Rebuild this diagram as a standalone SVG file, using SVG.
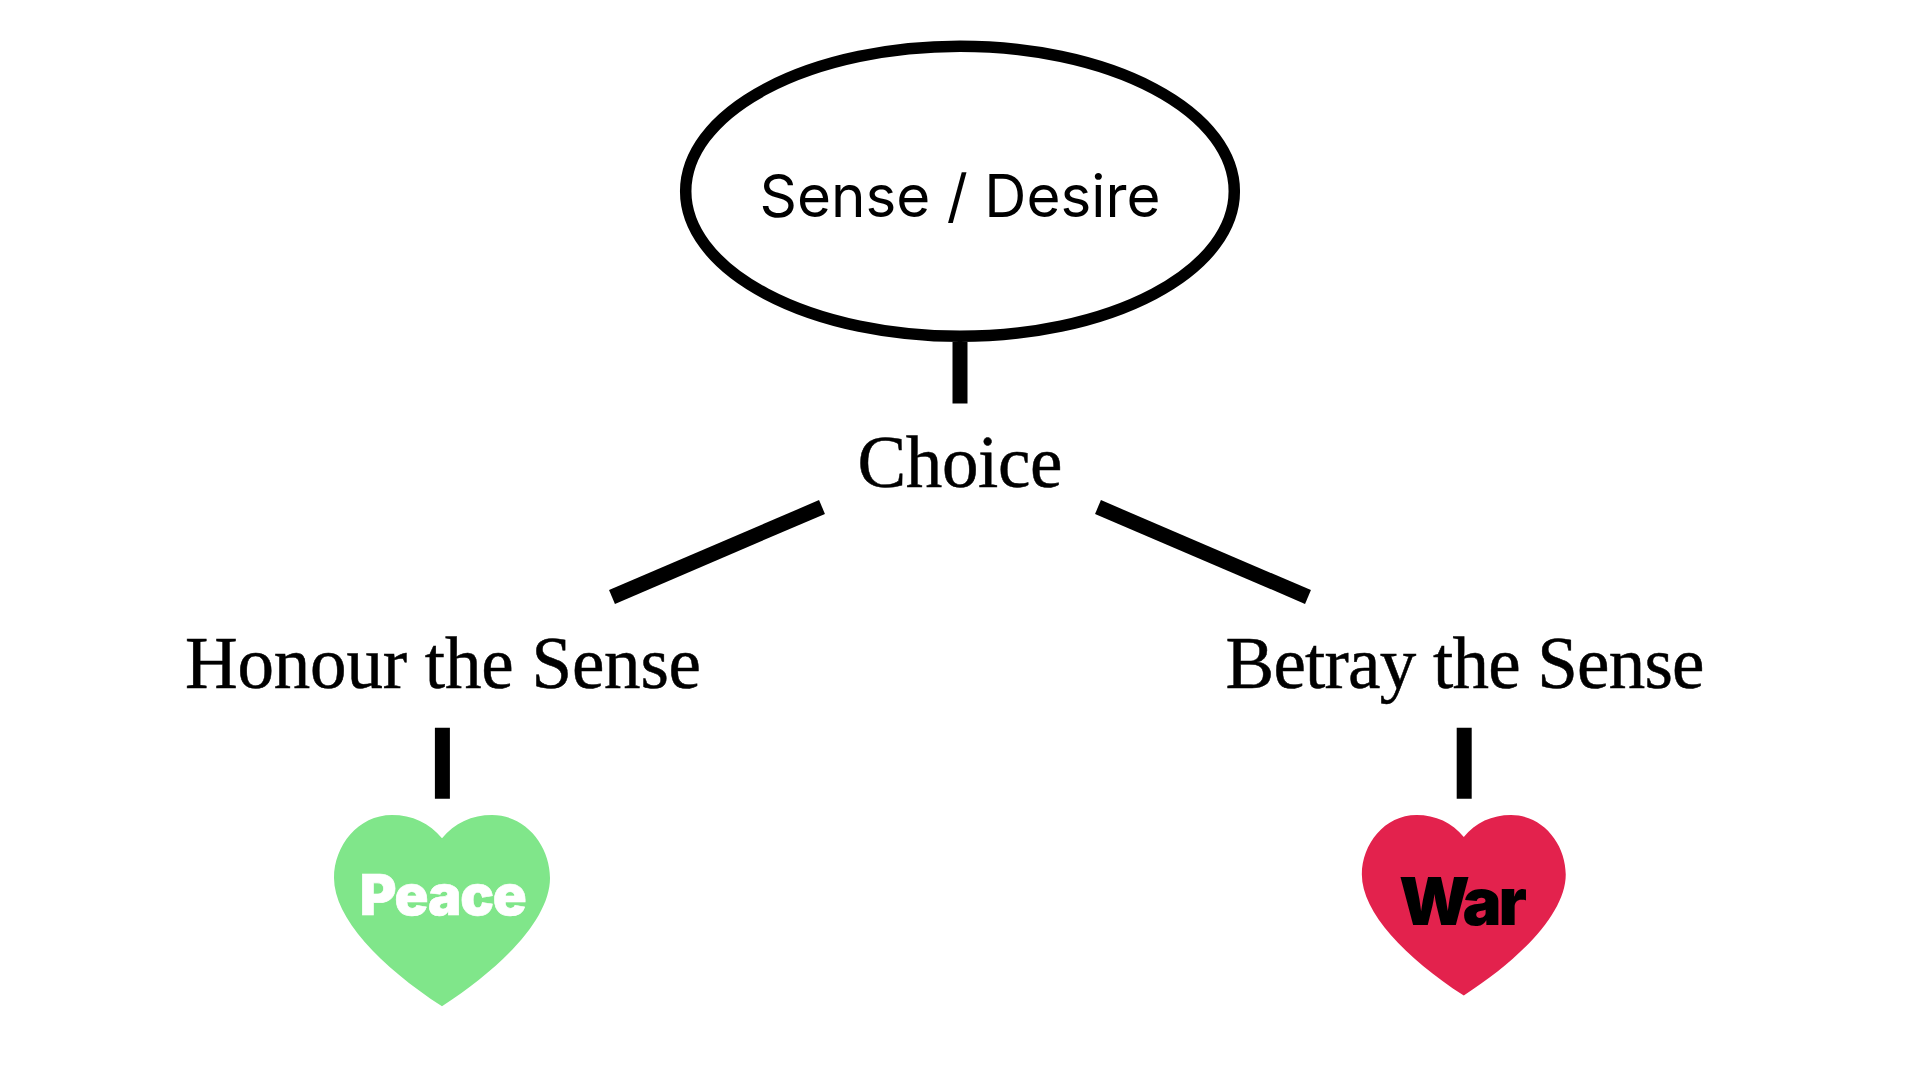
<svg xmlns="http://www.w3.org/2000/svg" xmlns:xlink="http://www.w3.org/1999/xlink" width="1920" height="1080" viewBox="0 0 1920 1080">
<style>
.serif{font-family:"Liberation Serif",serif;font-size:73px;fill:#000;stroke:#000;stroke-width:.5;text-anchor:middle}
.sans{font-family:"Inter","Roboto",sans-serif;font-size:58.4px;fill:#000;text-anchor:middle}
.heavy{font-family:"Inter","Roboto",sans-serif;font-weight:900;text-anchor:middle}
.link{stroke:#000;stroke-width:15;fill:none}
</style>
<defs>
<path id="heart" d="M0 23.3C-12.3 8 -30 0 -50 0C-84 0 -108 31 -108 63C-108 103 -62 151 0 191.3C62 151 108 103 108 63C108 31 84 0 50 0C30 0 12.3 8 0 23.3Z"/>
</defs>
<rect width="1920" height="1080" fill="#fff"/>
<g id="connectors">
<line class="link" x1="960" y1="342" x2="960" y2="403.5"/>
<line class="link" x1="822" y1="507" x2="612" y2="597"/>
<line class="link" x1="1098" y1="507" x2="1308" y2="597"/>
<line class="link" x1="442.4" y1="727.7" x2="442.4" y2="798.7"/>
<line class="link" x1="1464.2" y1="727.7" x2="1464.2" y2="798.7"/>
</g>
<g id="node-sense">
<ellipse cx="960" cy="191.3" rx="274.3" ry="145" fill="#fff" stroke="#000" stroke-width="11.5"/>
<text class="sans" x="960" y="217">Sense / Desire</text>
</g>
<g id="node-choice"><text class="serif" x="960" y="487" textLength="205">Choice</text></g>
<g id="node-honour"><text class="serif" x="443" y="688.3" textLength="516">Honour the Sense</text></g>
<g id="node-betray"><text class="serif" x="1465" y="688.3" textLength="479">Betray the Sense</text></g>
<g id="node-peace">
<use href="#heart" fill="#80E68A" transform="translate(442 815)"/>
<text class="heavy" x="443.2" y="915" font-size="56" fill="#fff" stroke="#fff" stroke-width=".6" textLength="167">Peace</text>
</g>
<g id="node-war">
<use href="#heart" fill="#E3224D" transform="translate(1463.8 815) scale(.944)"/>
<text class="heavy" x="1463" y="925" font-size="65.6" fill="#000" textLength="128">War</text>
</g>
</svg>
